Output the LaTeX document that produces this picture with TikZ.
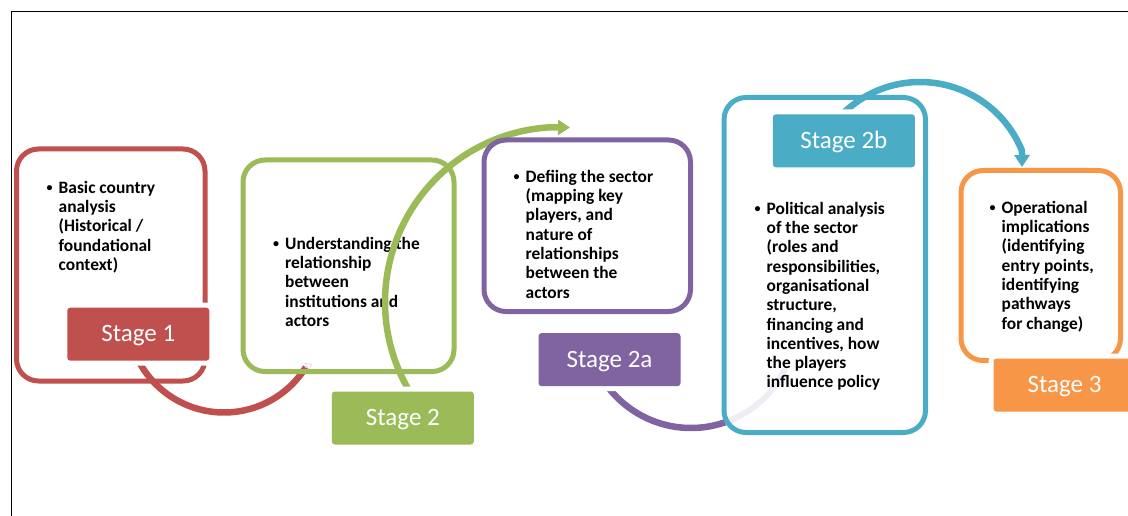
\documentclass[tikz,border=0pt]{standalone}
\usepackage{fontspec}
\setmainfont{Carlito}
\usetikzlibrary{arrows.meta}
\definecolor{cred}{HTML}{C0504D}
\definecolor{cgreen}{HTML}{9BBB59}
\definecolor{cpurple}{HTML}{8064A2}
\definecolor{cblue}{HTML}{4BACC6}
\definecolor{corange}{HTML}{F79646}
\newcommand{\bul}{\makebox[12pt][l]{\raisebox{1.3pt}{\fontsize{12}{12}\selectfont\textbullet}}}
\newcommand{\ind}{\hspace*{12pt}}
\begin{document}
\begin{tikzpicture}[x=1pt,y=-1pt,
  stagebox/.style={draw=#1, line width=5pt, rounded corners=22pt, inner sep=0pt},
  stagelabel/.style={fill=#1, text=white, rounded corners=3pt, minimum width=142pt,
    minimum height=53pt, inner sep=0pt, text height=15.5pt, text depth=0pt,
    font=\fontsize{25}{29}\selectfont, preaction={draw=white, line width=10pt}},
  bodytext/.style={anchor=north west, inner sep=0pt, align=left,
    font=\bfseries\fontsize{17.4}{19.3}\selectfont},
  bendarc/.style={draw=#1, line width=6.5pt},
  tipshape/.style={-{Triangle[length=12pt,width=15pt]}}
]
\useasboundingbox (0,0) rectangle (1128,516);
% frame
\draw[line width=1pt] (11.5,516) -- (11.5,11.5) -- (1128,11.5);

% Stage 1
\node[stagebox=cred, minimum width=188.5pt, minimum height=232pt] (b1) at (110.75,265) {};
\node[bodytext] (t1) at (46.5,179.5) {\strut\bul Basic country\\ \ind analysis\\ \ind (Historical /\\ \ind foundational\\ \ind context)};
\draw[bendarc=cred] plot[domain=158:32, samples=60, variable=\t] ({224+96.5*cos(\t)},{316+96.5*sin(\t)});
\draw[draw=cred!30, line width=0.6pt, -{Triangle[open,length=6pt,width=9pt]}] (305,368) -- (312,364);

% Stage 2
\node[stagebox=cgreen, minimum width=211pt, minimum height=211.5pt] (b2) at (348.5,265.75) {};
\node[bodytext] (t2) at (273,235.5) {\strut\bul Understanding the\\ \ind relationship\\ \ind between\\ \ind institutions and\\ \ind actors};
\draw[bendarc=cgreen, tipshape] plot[domain=148:266, samples=80, variable=\t] ({560+175*cos(\t)},{302+175*sin(\t)}) -- (570,127.5);

% Stage 2a
\node[bodytext] (t3) at (513.5,168.5) {\strut\bul Defiing the sector\\ \ind (mapping key\\ \ind players, and\\ \ind nature of\\ \ind relationships\\ \ind between the\\ \ind actors};
\node[stagebox=cpurple, minimum width=206.5pt, minimum height=171.5pt] (b3) at (587.25,225.75) {};
\draw[bendarc=cpurple] plot[domain=146:71, samples=60, variable=\t] ({691+104.7*cos(\t)},{323.3+104.7*sin(\t)});
\draw[draw=cpurple!12, line width=6pt] plot[domain=71:26, samples=40, variable=\t] ({691+104.7*cos(\t)},{323.3+104.7*sin(\t)});

% Stage 2b
\node[stagebox=cblue, minimum width=201.5pt, minimum height=335pt] (b4) at (824.75,265) {};
\node[bodytext] (t4) at (754.5,200.5) {\strut\bul Political analysis\\ \ind of the sector\\ \ind (roles and\\ \ind responsibilities,\\ \ind organisational\\ \ind structure,\\ \ind financing and\\ \ind incentives, how\\ \ind the players\\ \ind influence policy};
\draw[bendarc=cblue, tipshape] plot[domain=222:338, samples=80, variable=\t] ({920+110*cos(\t)},{192+110*sin(\t)}) -- (1022,167);

% Stage 3
\node[stagebox=corange, minimum width=159.5pt, minimum height=190pt] (b5) at (1040.75,265.5) {};
\node[bodytext] (t5) at (989.5,199.5) {\strut\bul Operational\\ \ind implications\\ \ind (identifying\\ \ind entry points,\\ \ind identifying\\ \ind pathways\\ \ind for change)};

% labels
\node[stagelabel=cred] (l1) at (138.3,334.2) {Stage 1};
\node[stagelabel=cgreen] (l2) at (402.85,418) {Stage 2};
\node[stagelabel=cpurple] (l3) at (609.5,359.65) {Stage 2a};
\node[stagelabel=cblue] (l4) at (843.85,140.8) {Stage 2b};
\node[stagelabel=corange] (l5) at (1064.5,385) {Stage 3};
\end{tikzpicture}
\end{document}
